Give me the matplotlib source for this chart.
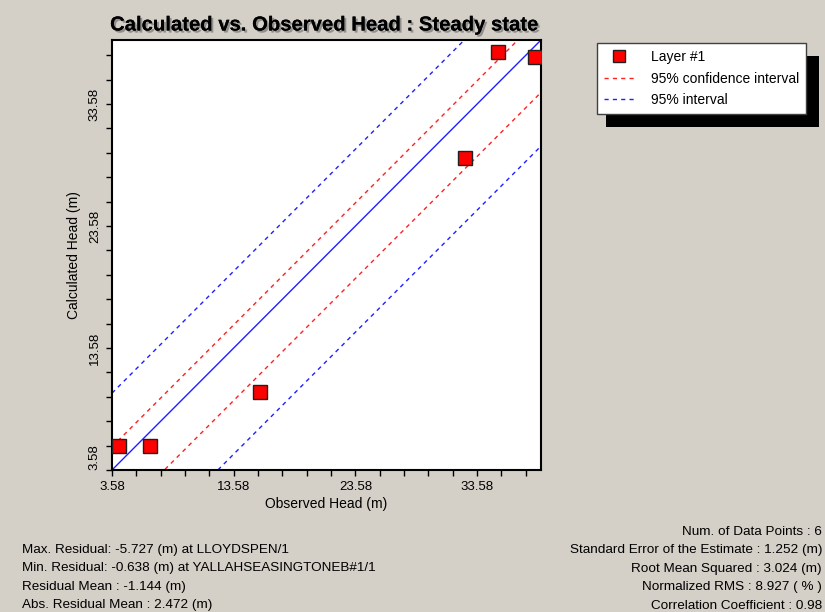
import matplotlib
matplotlib.use('Agg')
import matplotlib.pyplot as plt
import matplotlib.patheffects as pe
from matplotlib.patches import Rectangle
from matplotlib.ticker import FixedLocator
import numpy as np

plt.rcParams['font.family'] = ['Liberation Sans', 'DejaVu Sans']

# ---- data ----
observed = [4.15, 6.70, 15.75, 32.60, 35.30, 38.30]
calculated = [5.55, 5.55, 10.00, 29.15, 37.85, 37.45]
axis_min, axis_max = 3.58, 38.83
major_ticks = [3.58, 13.58, 23.58, 33.58]
tick_labels = ['3.58', '13.58', '23.58', '33.58']
band_center = -1.2      # offset of the interval bands from the 1:1 line
conf_half = 3.1         # 95% confidence interval half width
pred_half = 7.5         # 95% interval half width

stats_left = ['Max. Residual: -5.727 (m) at LLOYDSPEN/1',
              'Min. Residual: -0.638 (m) at YALLAHSEASINGTONEB#1/1',
              'Residual Mean : -1.144 (m)',
              'Abs. Residual Mean : 2.472 (m)']
stats_right = ['Num. of Data Points : 6',
               'Standard Error of the Estimate : 1.252 (m)',
               'Root Mean Squared : 3.024 (m)',
               'Normalized RMS : 8.927 ( % )',
               'Correlation Coefficient : 0.98']

bg = '#d4d0c8'
W, H = 825, 612
fig = plt.figure(figsize=(W / 100, H / 100), dpi=100, facecolor=bg)
ax = fig.add_axes([112 / W, 1 - 470 / H, (541 - 112) / W, (470 - 40) / H])
ax.set_facecolor('white')

xs = np.array([axis_min, axis_max])
ax.plot(xs, xs, color='#2020ff', lw=1)
ax.plot(xs, xs + band_center + conf_half, color='#ff2020', lw=1, ls=(0, (3, 3)),
        label='95% confidence interval')
ax.plot(xs, xs + band_center - conf_half, color='#ff2020', lw=1, ls=(0, (3, 3)))
ax.plot(xs, xs + band_center + pred_half, color='#2020ff', lw=1, ls=(0, (3, 3)),
        label='95% interval')
ax.plot(xs, xs + band_center - pred_half, color='#2020ff', lw=1, ls=(0, (3, 3)))
pts, = ax.plot(observed, calculated, 's', ms=9.5, mfc='#ff0000', mec='#202020',
               mew=1, label='Layer #1', zorder=5)

ax.set_xlim(axis_min, axis_max)
ax.set_ylim(axis_min, axis_max)
for axis in (ax.xaxis, ax.yaxis):
    axis.set_major_locator(FixedLocator(major_ticks))
    axis.set_minor_locator(FixedLocator(np.arange(axis_min, axis_max, 2.0)))
ax.set_xticklabels(tick_labels)
ax.set_yticklabels(tick_labels)
ax.tick_params(which='both', direction='out', length=4, width=1, color='black',
               labelsize=9.5, pad=4)
for i, lab in enumerate(ax.get_yticklabels()):
    lab.set_rotation(90)
    lab.set_va('bottom' if i == 0 else 'center')
for sp in ax.spines.values():
    sp.set_linewidth(1.5)
    sp.set_color('black')

ax.set_xlabel('Observed Head (m)', fontsize=10, labelpad=3)
ax.set_ylabel('Calculated Head (m)', fontsize=10, labelpad=6)

fig.text(324 / W, 1 - 25 / H, 'Calculated vs. Observed Head : Steady state',
         ha='center', va='center', fontsize=14.6, fontweight='bold',
         path_effects=[pe.withSimplePatchShadow(offset=(1.5, -1.5),
                                                shadow_rgbFace='#808080', alpha=0.8),
                       pe.Normal()])

# legend with a hard black drop shadow
handles = [pts, ax.lines[1], ax.lines[3]]
leg = fig.legend(handles, [h.get_label() for h in handles], loc='upper left',
                 bbox_to_anchor=(597 / W, 1 - 43 / H), borderaxespad=0,
                 fontsize=10, fancybox=False, framealpha=1, edgecolor='#404040',
                 handlelength=2.2, handletextpad=1.2, borderpad=0.5,
                 labelspacing=0.55, markerscale=0.85)
leg.get_frame().set_linewidth(1)
fig.canvas.draw()
bb = leg.get_window_extent()
shadow = Rectangle((bb.x0 + 9, bb.y0 - 13), bb.width + 4, bb.height,
                   transform=None, facecolor='black', edgecolor='none', zorder=0)
fig.add_artist(shadow)
leg.set_zorder(10)

for i, s in enumerate(stats_left):
    fig.text(22 / W, 1 - (550 + i * 18.4) / H, s, ha='left', va='center', fontsize=9.7)
for i, s in enumerate(stats_right):
    fig.text(822 / W, 1 - (532 + i * 18.4) / H, s, ha='right', va='center', fontsize=9.7)

fig.savefig('out.png', dpi=100, facecolor=bg)
